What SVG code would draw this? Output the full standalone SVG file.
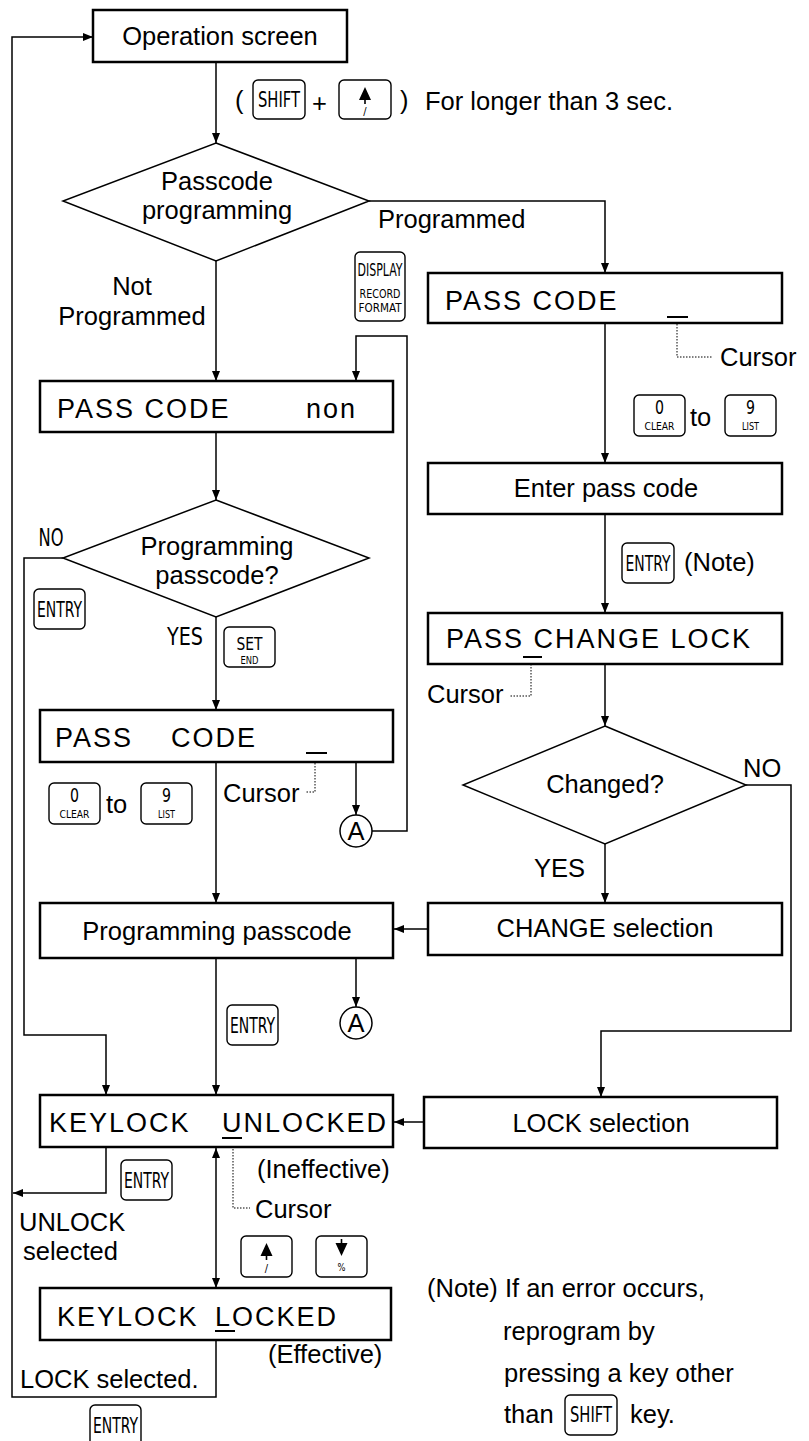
<svg xmlns="http://www.w3.org/2000/svg" width="809" height="1441" viewBox="0 0 809 1441">
<defs>
<style>
.box{fill:#fff;stroke:#000;stroke-width:2.5}
.dia{fill:#fff;stroke:#000;stroke-width:1.5}
.key{fill:#fff;stroke:#000;stroke-width:1.4}
.ln{fill:none;stroke:#000;stroke-width:1.5}
.dot{fill:none;stroke:#000;stroke-width:1;stroke-dasharray:1.5 1.5}
.cur{stroke:#000;stroke-width:2}
.t{font-family:"Liberation Sans",Arial,sans-serif;font-size:25.5px;fill:#000}
.c{text-anchor:middle}
.lcd{font-family:"Liberation Sans",Arial,sans-serif;font-size:27px;letter-spacing:2px;fill:#000}
.k{font-family:"Liberation Sans Narrow","DejaVu Sans Condensed","Liberation Sans",sans-serif;fill:#000;text-anchor:middle}
</style>
<marker id="ah" markerUnits="userSpaceOnUse" markerWidth="10" markerHeight="8" refX="10" refY="4" orient="auto-start-reverse" viewBox="0 0 10 8"><path d="M0,0 L10,4 L0,8 z" fill="#000"/></marker>
</defs>
<rect width="809" height="1441" fill="#fff"/>

<g id="connectors">
<path class="ln" d="M216,1340 V1397 H12 V37 H93" marker-end="url(#ah)"/>
<path class="ln" d="M216,62 V143" marker-end="url(#ah)"/>
<path class="ln" d="M369,201 H605 V273" marker-end="url(#ah)"/>
<path class="ln" d="M216,261 V381" marker-end="url(#ah)"/>
<path class="ln" d="M372,831 H407 V336 H356 V381" marker-end="url(#ah)"/>
<path class="ln" d="M605,323 V463" marker-end="url(#ah)"/>
<path class="ln" d="M216,432 V500" marker-end="url(#ah)"/>
<path class="ln" d="M605,514 V613" marker-end="url(#ah)"/>
<path class="ln" d="M63,558 H24 V1035 H106 V1095" marker-end="url(#ah)"/>
<path class="ln" d="M216,617 V710" marker-end="url(#ah)"/>
<path class="ln" d="M605,664 V726" marker-end="url(#ah)"/>
<path class="ln" d="M216,762 V903" marker-end="url(#ah)"/>
<path class="ln" d="M356,762 V815" marker-end="url(#ah)"/>
<path class="ln" d="M746,785 H791 V1031 H601 V1097" marker-end="url(#ah)"/>
<path class="ln" d="M605,844 V903" marker-end="url(#ah)"/>
<path class="ln" d="M428,929 H394" marker-end="url(#ah)"/>
<path class="ln" d="M216,958 V1095" marker-end="url(#ah)"/>
<path class="ln" d="M356,958 V1007" marker-end="url(#ah)"/>
<path class="ln" d="M424,1122 H394" marker-end="url(#ah)"/>
<path class="ln" d="M106,1147 V1193 H13" marker-end="url(#ah)"/>
<path class="ln" d="M216,1148 V1288" marker-start="url(#ah)" marker-end="url(#ah)"/>
<path class="dot" d="M677,318 V357 H712"/>
<path class="dot" d="M531,658 V696 H510"/>
<path class="dot" d="M315,754 V792 H305"/>
<path class="dot" d="M233,1140 V1208 H250"/>
</g>

<g id="operation-screen">
<rect class="box" x="93" y="10" width="254" height="52"/>
<text class="t c" x="220" y="45">Operation screen</text>
</g>

<g id="shift-up-label">
<text class="t" x="235" y="109">(</text>
<rect class="key" x="253" y="80" width="52" height="39" rx="5"/>
<text class="k" x="279" y="107" font-size="21" textLength="42" lengthAdjust="spacingAndGlyphs">SHIFT</text>
<text class="t" x="312" y="112" font-size="36">+</text>
<rect class="key" x="339" y="80" width="52" height="39" rx="5"/>
<path d="M365,87 L371,100 L359,100 z M364.2,100 h1.6 v4 h-1.6 z" fill="#000"/>
<text class="k" x="365" y="115" font-size="11">/</text>
<text class="t" x="400" y="109">)</text>
<text class="t" x="425" y="110">For longer than 3 sec.</text>
</g>

<g id="passcode-programming">
<polygon class="dia" points="216,143 369,201 216,261 63,201"/>
<text class="t c" x="217" y="190">Passcode</text>
<text class="t c" x="217" y="219">programming</text>
</g>
<text class="t" x="378" y="228">Programmed</text>
<text class="t c" x="132" y="295">Not</text>
<text class="t c" x="132" y="325">Programmed</text>

<g id="display-key">
<rect class="key" x="355" y="252" width="50" height="69" rx="5"/>
<text class="k" x="380" y="276" font-size="17" textLength="45" lengthAdjust="spacingAndGlyphs">DISPLAY</text>
<text class="k" x="380" y="298" font-size="13" textLength="41" lengthAdjust="spacingAndGlyphs">RECORD</text>
<text class="k" x="380" y="312" font-size="13" textLength="43" lengthAdjust="spacingAndGlyphs">FORMAT</text>
</g>

<g id="pass-code-right">
<rect class="box" x="428" y="273" width="354" height="50"/>
<text class="lcd" x="445" y="310">PASS CODE</text>
<line class="cur" x1="667" y1="317" x2="688" y2="317"/>
</g>
<text class="t" x="720" y="366">Cursor</text>

<g id="clear-list-right">
<rect class="key" x="634" y="395" width="51" height="41" rx="5"/>
<text class="k" x="659.5" y="414" font-size="19" textLength="9" lengthAdjust="spacingAndGlyphs">0</text>
<text class="k" x="659.5" y="430" font-size="11" textLength="30" lengthAdjust="spacingAndGlyphs">CLEAR</text>
<text class="t" x="690" y="426">to</text>
<rect class="key" x="725" y="395" width="51" height="41" rx="5"/>
<text class="k" x="750.5" y="414" font-size="19" textLength="9" lengthAdjust="spacingAndGlyphs">9</text>
<text class="k" x="750.5" y="430" font-size="11" textLength="17" lengthAdjust="spacingAndGlyphs">LIST</text>
</g>

<g id="pass-code-non">
<rect class="box" x="40" y="381" width="353" height="51"/>
<text class="lcd" x="57" y="418">PASS CODE</text>
<text class="lcd" x="306" y="418">non</text>
</g>

<g id="enter-pass-code">
<rect class="box" x="428" y="463" width="354" height="51"/>
<text class="t c" x="606" y="497">Enter pass code</text>
</g>

<g id="entry-note">
<rect class="key" x="622" y="543" width="52" height="40" rx="5"/>
<text class="k" x="648" y="571" font-size="21" textLength="45" lengthAdjust="spacingAndGlyphs">ENTRY</text>
<text class="t" x="684" y="571">(Note)</text>
</g>

<g id="programming-passcode-q">
<polygon class="dia" points="216,500 369,558 216,617 63,558"/>
<text class="t c" x="217" y="555">Programming</text>
<text class="t c" x="217" y="584">passcode?</text>
</g>
<text class="k" x="51" y="546" font-size="24" textLength="25" lengthAdjust="spacingAndGlyphs">NO</text>
<text class="k" x="185" y="645" font-size="24" textLength="36" lengthAdjust="spacingAndGlyphs">YES</text>

<g id="entry-left">
<rect class="key" x="34" y="589" width="51" height="40" rx="5"/>
<text class="k" x="59.5" y="617" font-size="21" textLength="45" lengthAdjust="spacingAndGlyphs">ENTRY</text>
</g>

<g id="set-end">
<rect class="key" x="224" y="627" width="51" height="40" rx="5"/>
<text class="k" x="249.5" y="650" font-size="18" textLength="26" lengthAdjust="spacingAndGlyphs">SET</text>
<text class="k" x="249.5" y="664" font-size="10" textLength="18" lengthAdjust="spacingAndGlyphs">END</text>
</g>

<g id="pass-change-lock">
<rect class="box" x="428" y="613" width="354" height="51"/>
<text class="lcd" x="446" y="648" letter-spacing="2.1">PASS CHANGE LOCK</text>
<line class="cur" x1="523" y1="657" x2="542" y2="657"/>
</g>
<text class="t" x="427" y="703">Cursor</text>

<g id="pass-code-left">
<rect class="box" x="40" y="710" width="353" height="52"/>
<text class="lcd" x="55" y="747">PASS</text>
<text class="lcd" x="171" y="747">CODE</text>
<line class="cur" x1="306" y1="753" x2="327" y2="753"/>
</g>
<text class="t" x="223" y="802">Cursor</text>

<g id="clear-list-left">
<rect class="key" x="49" y="783" width="51" height="41" rx="5"/>
<text class="k" x="74.5" y="802" font-size="19" textLength="9" lengthAdjust="spacingAndGlyphs">0</text>
<text class="k" x="74.5" y="818" font-size="11" textLength="30" lengthAdjust="spacingAndGlyphs">CLEAR</text>
<text class="t" x="106" y="813">to</text>
<rect class="key" x="141" y="783" width="51" height="41" rx="5"/>
<text class="k" x="166.5" y="802" font-size="19" textLength="9" lengthAdjust="spacingAndGlyphs">9</text>
<text class="k" x="166.5" y="818" font-size="11" textLength="17" lengthAdjust="spacingAndGlyphs">LIST</text>
</g>

<g id="connector-a-1">
<circle cx="356" cy="831" r="16" fill="#fff" stroke="#000" stroke-width="1.5"/>
<text class="t c" x="356" y="840">A</text>
</g>

<g id="changed">
<polygon class="dia" points="605,726 746,785 605,844 463,785"/>
<text class="t c" x="605" y="793">Changed?</text>
</g>
<text class="t" x="743" y="777">NO</text>
<text class="t" x="534" y="877">YES</text>

<g id="programming-passcode">
<rect class="box" x="40" y="903" width="353" height="55"/>
<text class="t c" x="217" y="940">Programming passcode</text>
</g>

<g id="change-selection">
<rect class="box" x="428" y="903" width="354" height="52"/>
<text class="t c" x="605" y="937">CHANGE selection</text>
</g>

<g id="entry-mid">
<rect class="key" x="227" y="1005" width="51" height="40" rx="5"/>
<text class="k" x="252.5" y="1033" font-size="21" textLength="45" lengthAdjust="spacingAndGlyphs">ENTRY</text>
</g>

<g id="connector-a-2">
<circle cx="356" cy="1023" r="16" fill="#fff" stroke="#000" stroke-width="1.5"/>
<text class="t c" x="356" y="1032">A</text>
</g>

<g id="keylock-unlocked">
<rect class="box" x="40" y="1095" width="353" height="52"/>
<text class="lcd" x="49" y="1132">KEYLOCK</text>
<text class="lcd" x="222" y="1132" letter-spacing="1.5">UNLOCKED</text>
<line class="cur" x1="222" y1="1138" x2="242" y2="1138"/>
</g>

<g id="lock-selection">
<rect class="box" x="424" y="1097" width="353" height="51"/>
<text class="t c" x="601" y="1132">LOCK selection</text>
</g>

<g id="entry-keylock">
<rect class="key" x="121" y="1160" width="51" height="40" rx="5"/>
<text class="k" x="146.5" y="1188" font-size="21" textLength="45" lengthAdjust="spacingAndGlyphs">ENTRY</text>
</g>
<text class="t" x="257" y="1178">(Ineffective)</text>
<text class="t" x="255" y="1218">Cursor</text>
<text class="t" x="19" y="1231">UNLOCK</text>
<text class="t" x="23" y="1260">selected</text>

<g id="up-down-keys">
<rect class="key" x="241" y="1236" width="51" height="41" rx="5"/>
<path d="M266.5,1243 L272.5,1256 L260.5,1256 z M265.7,1256 h1.6 v4 h-1.6 z" fill="#000"/>
<text class="k" x="266.5" y="1272" font-size="11">/</text>
<rect class="key" x="316" y="1236" width="51" height="41" rx="5"/>
<path d="M340.7,1239 h1.6 v4 h-1.6 z M335.5,1243 L347.5,1243 L341.5,1256 z" fill="#000"/>
<text class="k" x="341.5" y="1271" font-size="11" textLength="8" lengthAdjust="spacingAndGlyphs">%</text>
</g>

<g id="keylock-locked">
<rect class="box" x="40" y="1288" width="351" height="52"/>
<text class="lcd" x="57" y="1326">KEYLOCK</text>
<text class="lcd" x="215" y="1326" letter-spacing="1.5">LOCKED</text>
<line class="cur" x1="215" y1="1331" x2="235" y2="1331"/>
</g>
<text class="t" x="268" y="1363">(Effective)</text>
<text class="t" x="20" y="1388">LOCK selected.</text>

<g id="entry-bottom">
<rect class="key" x="90" y="1405" width="51" height="41" rx="5"/>
<text class="k" x="115.5" y="1433" font-size="21" textLength="45" lengthAdjust="spacingAndGlyphs">ENTRY</text>
</g>

<g id="note">
<text class="t" x="427" y="1297">(Note) If an error occurs,</text>
<text class="t" x="503" y="1340">reprogram by</text>
<text class="t" x="504" y="1382">pressing a key other</text>
<text class="t" x="504" y="1423">than</text>
<rect class="key" x="565" y="1395" width="52" height="40" rx="5"/>
<text class="k" x="591" y="1422" font-size="21" textLength="42" lengthAdjust="spacingAndGlyphs">SHIFT</text>
<text class="t" x="630" y="1423">key.</text>
</g>
</svg>
